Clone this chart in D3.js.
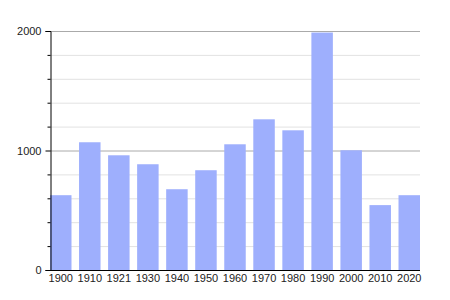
<!DOCTYPE html>
<html>
<head>
<meta charset="UTF-8">
<script src="https://d3js.org/d3.v7.min.js"></script>
<style>
  body { margin: 0; background: #fff; }
  text { font-family: "Liberation Sans", Arial, sans-serif; font-size: 11px; fill: #222; }
</style>
</head>
<body>
<script>
// Jahre und Einwohnerzahlen
const years = ["1900", "1910", "1921", "1930", "1940", "1950", "1960", "1970", "1980", "1990", "2000", "2010", "2020"];
const population = [626, 1069, 960, 885, 676, 835, 1052, 1261, 1169, 1987, 1002, 543, 626];
const majorTicks = [0, 1000, 2000];
const minorTicks = [200, 400, 600, 800, 1200, 1400, 1600, 1800];

const width = 450, height = 300;
const marginLeft = 50, marginRight = 420, marginTop = 31, marginBottom = 270;

const svg = d3.select("body").append("svg").attr("width", width).attr("height", height);

const x = d3.scaleBand().domain(years).range([marginLeft, marginRight]).paddingInner(0.26).paddingOuter(0);
const y = d3.scaleLinear().domain([0, 2000]).range([marginBottom, marginTop]);

// Gitterlinien
svg.append("g").selectAll("line").data(minorTicks).join("line")
  .attr("x1", marginLeft).attr("x2", marginRight)
  .attr("y1", d => y(d) + 0.5).attr("y2", d => y(d) + 0.5)
  .attr("stroke", "#e2e2e2");
svg.append("g").selectAll("line").data(majorTicks.slice(1)).join("line")
  .attr("x1", marginLeft).attr("x2", marginRight)
  .attr("y1", d => y(d) + 0.5).attr("y2", d => y(d) + 0.5)
  .attr("stroke", "#aaa");

// Balken
svg.append("g").selectAll("rect").data(population).join("rect")
  .attr("x", (d, i) => x(years[i]))
  .attr("y", d => y(d))
  .attr("width", x.bandwidth())
  .attr("height", d => y(0) - y(d))
  .attr("fill", "#9eaffd");

// Y-Achse
const yAxis = svg.append("g").attr("transform", `translate(${marginLeft + 0.5},0)`)
  .call(d3.axisLeft(y).tickValues(majorTicks).tickFormat(d3.format("d")).tickSize(5).tickPadding(4));
yAxis.select(".domain").attr("stroke", "#000");
yAxis.selectAll(".tick line").attr("stroke", "#000");
yAxis.selectAll(".tick text").attr("fill", "#222").style("font-size", "11px");
yAxis.append("g").selectAll("line").data(minorTicks).join("line")
  .attr("x1", -3).attr("x2", 0)
  .attr("y1", d => y(d) + 0.5).attr("y2", d => y(d) + 0.5)
  .attr("stroke", "#000");

// X-Achse
const xAxis = svg.append("g").attr("transform", `translate(0,${marginBottom + 0.5})`)
  .call(d3.axisBottom(x).tickSize(0).tickPadding(4));
xAxis.select(".domain").attr("stroke", "#000").attr("d", `M${marginLeft},0H${marginRight}`);
xAxis.selectAll(".tick text").attr("fill", "#222").style("font-size", "11px");
</script>
</body>
</html>
